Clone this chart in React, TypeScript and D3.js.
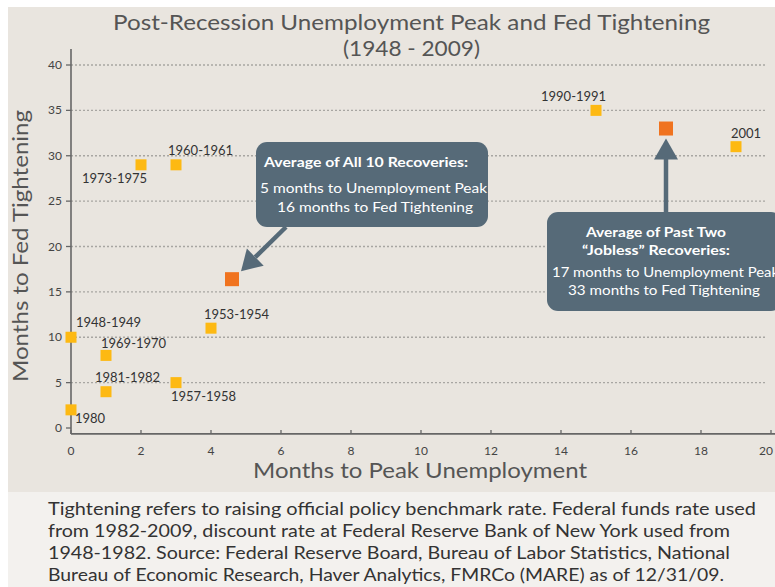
import * as d3 from "d3";

const recessions = ["1948-1949", "1953-1954", "1957-1958", "1960-1961", "1969-1970", "1973-1975", "1980", "1981-1982", "1990-1991", "2001"];
const monthsToPeak = [0, 4, 3, 3, 1, 2, 0, 1, 15, 19];
const monthsToTightening = [10, 11, 5, 29, 8, 29, 2, 4, 35, 31];

const averageNames = ["All 10", "Past Two"];
const averagePeak = [4.6, 17];
const averageTightening = [16.4, 33];

const xTicks = [0, 2, 4, 6, 8, 10, 12, 14, 16, 18, 20];
const yTicks = [0, 5, 10, 15, 20, 25, 30, 35, 40];

const captionLines = [
  "Tightening refers to raising official policy benchmark rate. Federal funds rate used",
  "from 1982-2009, discount rate at Federal Reserve Bank of New York used from",
  "1948-1982. Source: Federal Reserve Board, Bureau of Labor Statistics, National",
  "Bureau of Economic Research, Haver Analytics, FMRCo (MARE) as of 12/31/09.",
];
const captionWidths = [708, 682, 682, 676];

// label placement relative to the point (layout only)
const labelOffsets: Record<string, [number, number]> = {
  "1948-1949": [5, -10],
  "1953-1954": [-7, -9],
  "1957-1958": [-5, 18],
  "1960-1961": [-8, -10],
  "1969-1970": [-5, -7],
  "1973-1975": [-59, 18],
  "1980": [4, 13],
  "1981-1982": [-11, -10],
  "1990-1991": [-55, -9],
  "2001": [-5, -9],
};

const font = "Lato, 'Open Sans', sans-serif";
const boxFill = "#566a78";

export default function App() {
  const x = d3.scaleLinear().domain([0, 20]).range([71, 771]);
  const y = d3.scaleLinear().domain([0, 40]).range([428, 65]);
  const axisY = y(-0.65);

  const [ax1, ay1] = [x(averagePeak[0]), y(averageTightening[0])];
  const [ax2, ay2] = [x(averagePeak[1]), y(averageTightening[1])];

  // arrow 1: from box corner down-left to avg point
  const a1Start: [number, number] = [286, 227];
  const a1Tip: [number, number] = [ax1 + 9, ay1 - 8];
  const ang = Math.atan2(a1Tip[1] - a1Start[1], a1Tip[0] - a1Start[0]);
  const headLen = 20, headW = 12;
  const baseX = a1Tip[0] - headLen * Math.cos(ang), baseY = a1Tip[1] - headLen * Math.sin(ang);
  const head1 = [
    [a1Tip[0], a1Tip[1]],
    [baseX + headW * Math.sin(ang), baseY - headW * Math.cos(ang)],
    [baseX - headW * Math.sin(ang), baseY + headW * Math.cos(ang)],
  ].map(p => p.join(",")).join(" ");

  const tip2 = ay2 + 10;
  const head2 = [[ax2, tip2], [ax2 - 12, tip2 + 21], [ax2 + 12, tip2 + 21]].map(p => p.join(",")).join(" ");

  return (
    <svg width={775} height={587} style={{ position: "absolute", left: 0, top: 0 }} fontFamily={font}>
      <rect x={0} y={0} width={775} height={587} fill="#ffffff" />
      <rect x={8} y={7} width={767} height={485} fill="#e9e5df" />
      <rect x={8} y={492} width={767} height={95} fill="#f3f1ee" />

      <text x={113} y={30} fontSize={22} fill="#555" textLength={597} lengthAdjust="spacingAndGlyphs">Post-Recession Unemployment Peak and Fed Tightening</text>
      <text x={343} y={56} fontSize={22} fill="#555" textLength={137} lengthAdjust="spacingAndGlyphs">(1948 - 2009)</text>

      {yTicks.filter(t => t > 0).map(t => (
        <line key={"g" + t} x1={x(0)} x2={765} y1={y(t)} y2={y(t)} stroke="#a8a6a2" strokeWidth={1.3} strokeDasharray="2,2" />
      ))}

      <line x1={x(0)} x2={x(0)} y1={49} y2={axisY} stroke="#666" strokeWidth={1.6} />
      <line x1={x(0)} x2={775} y1={axisY} y2={axisY} stroke="#666" strokeWidth={1.6} />

      {yTicks.map(t => (
        <g key={"y" + t}>
          <line x1={x(0) - 5} x2={x(0)} y1={y(t)} y2={y(t)} stroke="#666" strokeWidth={1.3} />
          <text x={62} y={y(t) + 4} textAnchor="end" fontSize={12} fill="#444">{t}</text>
        </g>
      ))}
      {xTicks.map(t => (
        <g key={"x" + t}>
          <line x1={x(t)} x2={x(t)} y1={axisY - 4} y2={axisY} stroke="#666" strokeWidth={1.3} />
          <text x={Math.min(x(t), 766)} y={455} textAnchor="middle" fontSize={12} fill="#444">{t}</text>
        </g>
      ))}

      <text transform="translate(28,382) rotate(-90)" fontSize={21} fill="#555" textLength={272} lengthAdjust="spacingAndGlyphs">Months to Fed Tightening</text>
      <text x={253} y={478} fontSize={21} fill="#555" textLength={334} lengthAdjust="spacingAndGlyphs">Months to Peak Unemployment</text>

      {recessions.map((r, i) => {
        const px = x(monthsToPeak[i]), py = y(monthsToTightening[i]);
        const [dx, dy] = labelOffsets[r];
        return (
          <g key={r}>
            <rect x={px - 5.5} y={py - 5.5} width={11} height={11} fill="#fdb913" />
            <text x={px + dx} y={py + dy} fontSize={13} fill="#333">{r}</text>
          </g>
        );
      })}

      {averageNames.map((n, i) => (
        <rect key={n} x={x(averagePeak[i]) - 7} y={y(averageTightening[i]) - 7} width={14} height={14} fill="#f0731f" />
      ))}

      <line x1={a1Start[0]} y1={a1Start[1]} x2={baseX} y2={baseY} stroke={boxFill} strokeWidth={4.5} />
      <polygon points={head1} fill={boxFill} />
      <rect x={256} y={142} width={232} height={85} rx={11} fill={boxFill} />
      <text x={264} y={167} fontSize={13.5} fontWeight="bold" fill="#fff" textLength={204} lengthAdjust="spacingAndGlyphs">Average of All 10 Recoveries:</text>
      <text x={260} y={193} fontSize={14} fill="#fff" textLength={227} lengthAdjust="spacingAndGlyphs">5 months to Unemployment Peak</text>
      <text x={277} y={212} fontSize={14} fill="#fff" textLength={196} lengthAdjust="spacingAndGlyphs">16 months to Fed Tightening</text>

      <line x1={ax2} y1={tip2 + 18} x2={ax2} y2={214} stroke={boxFill} strokeWidth={4.5} />
      <polygon points={head2} fill={boxFill} />
      <rect x={547} y={212} width={235} height={99} rx={11} fill={boxFill} />
      <text x={586} y={237} fontSize={13.5} fontWeight="bold" fill="#fff" textLength={140} lengthAdjust="spacingAndGlyphs">Average of Past Two</text>
      <text x={582} y={255} fontSize={13.5} fontWeight="bold" fill="#fff" textLength={148} lengthAdjust="spacingAndGlyphs">“Jobless” Recoveries:</text>
      <text x={552} y={277} fontSize={14} fill="#fff" textLength={227} lengthAdjust="spacingAndGlyphs">17 months to Unemployment Peak</text>
      <text x={568} y={295} fontSize={14} fill="#fff" textLength={192} lengthAdjust="spacingAndGlyphs">33 months to Fed Tightening</text>

      {captionLines.map((l, i) => (
        <text key={i} x={48} y={515 + i * 22} fontSize={18} fill="#333" textLength={captionWidths[i]} lengthAdjust="spacingAndGlyphs">{l}</text>
      ))}
    </svg>
  );
}
